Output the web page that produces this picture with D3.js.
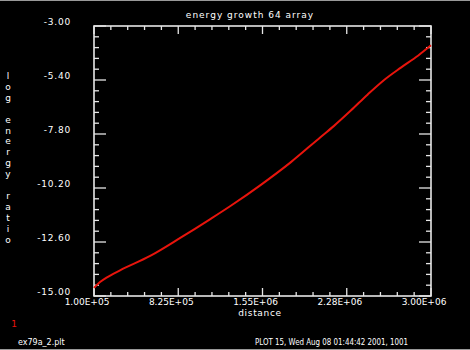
<!DOCTYPE html>
<html><head><meta charset="utf-8">
<script src="https://cdn.jsdelivr.net/npm/d3@7"></script>
<style>html,body{margin:0;padding:0;background:#000;}svg{display:block;}</style>
</head><body>
<script>
const distance = [1.00e5,1.52e5,2.12e5,3.24e5,5.83e5,8.42e5,1.101e6,1.274e6,1.533e6,1.792e6,2.051e6,2.163e6,2.310e6,2.456e6,2.594e6,2.741e6,2.888e6,3.000e6];
const logRatio = [-14.64,-14.38,-14.17,-13.86,-13.22,-12.42,-11.58,-11.00,-10.07,-9.06,-7.93,-7.45,-6.76,-6.04,-5.41,-4.85,-4.32,-3.86];
const xTicks = [1.00e5,8.25e5,1.55e6,2.275e6,3.00e6];
const xTickLabels = ["1.00E+05","8.25E+05","1.55E+06","2.28E+06","3.00E+06"];
const yTicks = [-3.00,-5.40,-7.80,-10.20,-12.60,-15.00];
const yTickLabels = ["-3.00","-5.40","-7.80","-10.20","-12.60","-15.00"];
const title = "energy growth 64 array";
const xTitle = "distance";
const yTitle = "log energy ratio";
const footLeft = "ex79a_2.plt";
const footRight = "PLOT 15, Wed Aug 08 01:44:42 2001, 1001";

const W=470,H=350, L=94, R=431, T=26, B=296;
const svg=d3.select("body").append("svg").attr("width",W).attr("height",H);
svg.append("rect").attr("width",W).attr("height",H).attr("fill","#000");
svg.append("line").attr("x1",0).attr("x2",W).attr("y1",0.5).attr("y2",0.5).attr("stroke","#999");
svg.append("line").attr("x1",0).attr("x2",W).attr("y1",H-0.5).attr("y2",H-0.5).attr("stroke","#999");

const x=d3.scaleLinear().domain([1e5,3e6]).range([L,R]);
const y=d3.scaleLinear().domain([-15,-3]).range([B,T]);
const ax="#e6e6e6", font="DejaVu Sans";

const xMinor=d3.range(0,21).map(i=>1e5+i*1.45e5);
const yMinor=d3.range(0,26).map(i=>-15+i*0.48);
const g=svg.append("g").attr("stroke",ax).attr("stroke-width",1.3);
xMinor.forEach((v,i)=>{const major=i%5===0;const len=major?8:4;
  g.append("line").attr("x1",x(v)).attr("x2",x(v)).attr("y1",B).attr("y2",B-len);
  g.append("line").attr("x1",x(v)).attr("x2",x(v)).attr("y1",T).attr("y2",T+len);});
yMinor.forEach((v,i)=>{const major=i%5===0;const len=major?12:5;
  g.append("line").attr("y1",y(v)).attr("y2",y(v)).attr("x1",L).attr("x2",L+len);
  g.append("line").attr("y1",y(v)).attr("y2",y(v)).attr("x1",R).attr("x2",R-len);});
svg.append("rect").attr("x",L).attr("y",T).attr("width",R-L).attr("height",B-T)
  .attr("fill","none").attr("stroke",ax).attr("stroke-width",1.6);

const line=d3.line().x((d,i)=>x(distance[i])).y(d=>y(d)).curve(d3.curveMonotoneX);
svg.append("path").datum(logRatio).attr("d",line).attr("fill","none")
  .attr("stroke","#e8140c").attr("stroke-width",2);

const txt=(s,xx,yy,anchor,size,fill,ls)=>svg.append("text").attr("x",xx).attr("y",yy)
  .attr("text-anchor",anchor||"middle").attr("font-family",font).attr("font-size",size||9)
  .attr("letter-spacing",ls||0).attr("fill",fill||"#fff").text(s);

txt(title,250,18,"middle",9,"#fff",1);
yTicks.forEach((v,i)=>txt(yTickLabels[i],71,y(v)-1,"end",9,"#fff",0.8));
xTicks.forEach((v,i)=>txt(xTickLabels[i],x(v)-7,305,"middle",9));
txt(xTitle,260,316,"middle",9,"#fff",0.7);
yTitle.split("").forEach((c,i)=>{ if(c!==" ") txt(c,8,79+i*10.9,"middle",9); });
txt("1",14,327,"middle",9,"#e8140c");
txt(footLeft,18,345,"start",8);
txt(footRight,255,345,"start",8).attr("textLength",153).attr("lengthAdjust","spacingAndGlyphs");
</script>
</body></html>
